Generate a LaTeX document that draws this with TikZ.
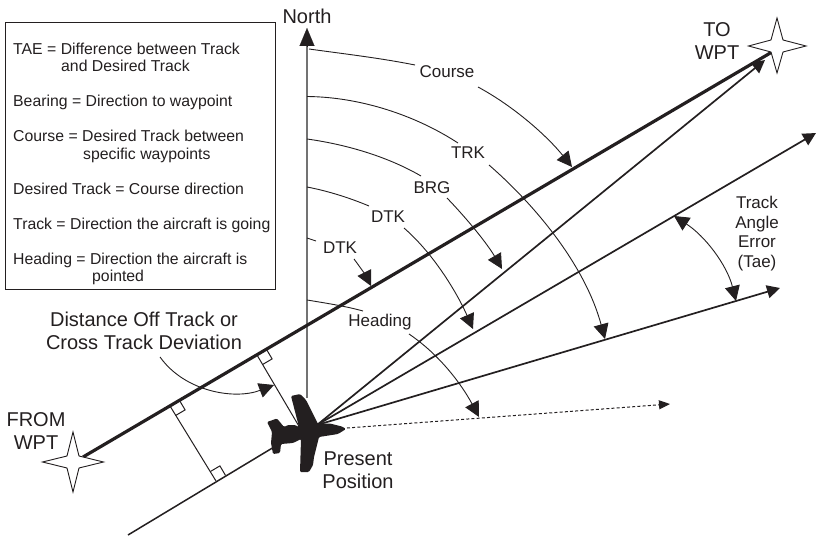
\documentclass[tikz,border=0pt]{standalone}
\usepackage{fontspec}
\setmainfont{Liberation Sans}
\usetikzlibrary{arrows.meta}
\definecolor{ink}{HTML}{231F20}
\tikzset{
  lbl/.style={font=\fontsize{17}{19.6}\selectfont,text=ink,inner sep=0pt,align=center},
  biglbl/.style={font=\fontsize{20}{23}\selectfont,text=ink,inner sep=0pt,align=center},
  arc/.style={draw=ink,line width=0.9pt},
  arcend/.style={arc,-{Triangle[length=15pt,width=15pt]}},
  ray/.style={draw=ink,line width=1.7pt,-{Triangle[length=13pt,width=13pt]}},
  thick track/.style={draw=ink,line width=3.2pt},
  thin/.style={draw=ink,line width=1pt},
  starsty/.style={draw=ink,line width=0.9pt,fill=white},
}
\begin{document}
\begin{tikzpicture}[x=1pt,y=-1pt]
\useasboundingbox (0,0) rectangle (816,537);
% named points
\coordinate (fromc) at (73,462);
\coordinate (toc) at (777,46);
\coordinate (pos) at (317,425);
\coordinate (trkA) at (83,457);
\coordinate (trkB) at (772,52);
\coordinate (parA) at (128,535);
\coordinate (parB) at (284,441);
\coordinate (northS) at (307,398);
\coordinate (northT) at (307,28);
\coordinate (t1) at (765,60);
\coordinate (t2) at (816,133);
\coordinate (t3) at (780,288);
\coordinate (dashS) at (347,428);
\coordinate (t4) at (670,404);
% legend
\node[draw=ink,line width=1pt,minimum width=270pt,minimum height=267pt,anchor=north west] (legendbox) at (5,22) {};
\node[anchor=north west,inner sep=0pt,align=left,text=ink,font=\fontsize{15.8}{17.5}\selectfont] (legend) at (13,42.5) {%
TAE = Difference between Track\\
\hspace*{48pt}and Desired Track\\
\mbox{}\\
Bearing = Direction to waypoint\\
\mbox{}\\
Course = Desired Track between\\
\hspace*{70pt}specific waypoints\\
\mbox{}\\
Desired Track = Course direction\\
\mbox{}\\
Track = Direction the aircraft is going\\
\mbox{}\\
Heading = Direction the aircraft is\\
\hspace*{79pt}pointed};
% north
\draw[draw=gray!90!black,line width=1.5pt] (northS) -- (307,40);
\draw[draw=ink,line width=0.1pt,-{Triangle[length=18pt,width=15pt]}] (307,46) -- (northT);
% track lines
\draw[thick track] (trkA) -- (trkB);
\draw[draw=ink,line width=1.5pt] (parA) -- (parB);
% perpendiculars
\coordinate (fA) at (170,406);
\coordinate (fB) at (216,481);
\coordinate (fC) at (257,355);
\coordinate (fD) at (300,428);
\draw[thin] (fA) -- (fB);
\draw[thin] (fC) -- (fD);
\draw[thin] (fA) ++(5.6,9.5) -- ++(9.5,-5.6) -- ++(-5.6,-9.5);
\draw[thin] (fC) ++(5.6,9.5) -- ++(9.5,-5.6) -- ++(-5.6,-9.5);
\draw[thin] (fB) ++(-5.6,-9.5) -- ++(9.5,-5.6) -- ++(5.6,9.5);
% rays
\draw[ray] (pos) -- (t1);
\draw[ray] (pos) -- (t2);
\draw[ray] (pos) -- (t3);
\draw[draw=ink,line width=1pt,dash pattern=on 3pt off 2.2pt,-{Triangle[length=11pt,width=9pt]}] (dashS) -- (t4);
% stars
\draw[starsty] (fromc) ++(0,-30) -- ++(6,24) -- ++(24.5,6) -- ++(-24.5,6) -- ++(-6,24) -- ++(-6,-24) -- ++(-24.5,-6) -- ++(24.5,-6) -- cycle;
\draw[starsty] (toc) ++(0,-28) -- ++(6,22) -- ++(23,6) -- ++(-23,6) -- ++(-6,21) -- ++(-6,-21) -- ++(-22.5,-6) -- ++(22.5,-6) -- cycle;
% aircraft
\fill[ink,rounded corners=1.2pt] (291,396) -- (300,394) -- (306,400) -- (318,424) -- (330,423.5) -- (342,426.5) -- (346,429) -- (338,434) -- (319,437) -- (314,457) -- (313,465) -- (309,472) -- (300,472) -- (301,439) -- (293,443) -- (281,444) -- (280,453) -- (273,454) -- (271,443) -- (272,432) -- (267,422) -- (277,418.5) -- (284,427) -- (288,425) -- (295,425) -- (299,427) -- cycle;
% labels
\node[biglbl] (north) at (307,16) {North};
\node[biglbl] (towpt) at (717,41.5) {TO\\WPT};
\node[biglbl] (fromwpt) at (36,431.5) {FROM\\WPT};
\node[biglbl] (present) at (358,470.5) {Present\\Position};
\node[biglbl] (dist) at (144,330.5) {Distance Off Track or\\Cross Track Deviation};
\node[lbl] (course) at (447,72) {Course};
\node[lbl] (trk) at (468,153) {TRK};
\node[lbl] (brg) at (432,188) {BRG};
\node[lbl] (dtka) at (388,217) {DTK};
\node[lbl] (dtkb) at (340,248) {DTK};
\node[lbl] (heading) at (380,322) {Heading};
\node[lbl] (tae) at (757,233.5) {Track\\Angle\\Error\\(Tae)};
% arcs
\draw[arc] (309,49) .. controls (345,54) and (380,58) .. (415,65);
\draw[arcend] (478,87) .. controls (515,107) and (548,137) .. (572,167);
\draw[arc] (307,96.5) .. controls (360,97) and (415,115) .. (458,143);
\draw[arcend] (489,165) .. controls (535,205) and (585,265) .. (605,339);
\draw[arc] (307,139) .. controls (350,145) and (390,158) .. (421,176);
\draw[arcend] (447,198) .. controls (470,222) and (488,245) .. (502,269);
\draw[arc] (307,187) .. controls (328,191) and (350,198) .. (369,206);
\draw[arcend] (404,228) .. controls (435,255) and (458,295) .. (473,329);
\draw[arc] (307,238) -- (316,241);
\draw[arcend] (354,259) .. controls (360,267) and (366,276) .. (371,286);
\draw[arc] (307,300) .. controls (325,303) and (345,306) .. (363,311);
\draw[arcend] (409,334) .. controls (440,355) and (462,385) .. (479,417);
\draw[draw=ink,line width=0.9pt,{Triangle[length=15pt,width=15pt]}-{Triangle[length=15pt,width=15pt]}] (674,216) .. controls (705,236) and (727,265) .. (736,301);
\draw[arcend] (160,357) .. controls (185,392) and (235,400) .. (274,385);
\end{tikzpicture}
\end{document}
